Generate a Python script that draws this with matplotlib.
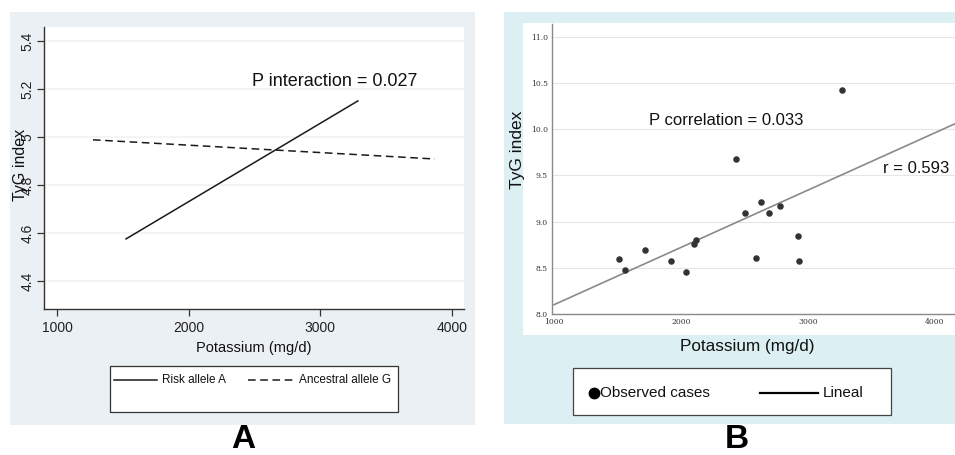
import matplotlib
matplotlib.use("Agg")
import matplotlib.pyplot as plt
from matplotlib.patches import Rectangle
from matplotlib.lines import Line2D

# Panel A: interaction lines (endpoints)
risk_x = [1524, 3285]
risk_y = [4.575, 5.15]
ancestral_x = [1273, 3870]
ancestral_y = [4.988, 4.908]
a_yticks = [4.4, 4.6, 4.8, 5.0, 5.2, 5.4]
a_yticklabels = ["4.4", "4.6", "4.8", "5", "5.2", "5.4"]
a_xticks = [1000, 2000, 3000, 4000]

# Panel B: observed cases + linear fit
potassium = [3268, 2433, 2504, 2630, 2693, 2780, 1512, 1559, 1717, 1921,
             2039, 2102, 2118, 2591, 2921, 2929]
tyg = [10.43, 9.68, 9.09, 9.21, 9.09, 9.17, 8.60, 8.475, 8.69, 8.57,
       8.45, 8.76, 8.80, 8.61, 8.84, 8.57]
fit_x = [1000, 4160]
fit_y = [8.10, 10.06]
b_yticks = [8.0, 8.5, 9.0, 9.5, 10.0, 10.5, 11.0]
b_xticks = [1000, 2000, 3000, 4000]

W, H = 955, 455
fig = plt.figure(figsize=(W / 100, H / 100), dpi=100)
fig.patch.set_facecolor("white")


def box(x0, y0, x1, y1):
    # pixel box -> figure fraction [left, bottom, width, height]
    return [x0 / W, 1 - y1 / H, (x1 - x0) / W, (y1 - y0) / H]


def fx(px):
    return px / W


def fy(py):
    return 1 - py / H


def rect(x0, y0, x1, y1, **kw):
    l, b, w, h = box(x0, y0, x1, y1)
    fig.patches.append(Rectangle((l, b), w, h, transform=fig.transFigure, **kw))


font = ["Liberation Sans", "DejaVu Sans"]

# ---------------- Panel A ----------------
rect(10, 12, 475, 425, facecolor="#eaf0f3", edgecolor="none", zorder=-2)
axA = fig.add_axes(box(44, 27, 464, 309))
axA.set_facecolor("white")
axA.plot(risk_x, risk_y, color="#1a1a1a", lw=1.1)
axA.plot(ancestral_x, ancestral_y, color="#1a1a1a", lw=1.1, dashes=(5, 3))
axA.set_xlim(901, 4091)
axA.set_ylim(4.283, 5.458)
axA.set_yticks(a_yticks)
axA.set_yticklabels(a_yticklabels, rotation=90, va="center", family=font, fontsize=10)
axA.set_xticks(a_xticks)
axA.set_xticklabels([str(t) for t in a_xticks], family=font, fontsize=10)
axA.grid(axis="y", color="#eff3f5", lw=1.2)
axA.set_axisbelow(True)
for s in ["top", "right"]:
    axA.spines[s].set_visible(False)
for s in ["left", "bottom"]:
    axA.spines[s].set_color("#333333")
    axA.spines[s].set_linewidth(1.0)
axA.tick_params(length=5, width=0.9, color="#333333", labelcolor="#222222")
axA.tick_params(axis="y", pad=2)
axA.tick_params(axis="x", pad=4)
axA.text(3111, 5.23, "P interaction = 0.027", ha="center", va="center",
         family=font, fontsize=13, color="#111111")
fig.text(fx(20), fy(165), "TyG index", rotation=90, ha="center", va="center",
         family=font, fontsize=11.5, color="#111111")
fig.text(fx(254), fy(348), "Potassium (mg/d)", ha="center", va="center",
         family=font, fontsize=10.5, color="#111111")

# legend A
rect(110, 366, 398, 412, facecolor="white", edgecolor="#333333", lw=0.9, zorder=1)
fig.lines.append(Line2D([fx(114), fx(157)], [fy(380), fy(380)], transform=fig.transFigure,
                        color="#1a1a1a", lw=1.1))
fig.text(fx(162), fy(380), "Risk allele A", ha="left", va="center", family=font,
         fontsize=8.5, color="#111111")
fig.lines.append(Line2D([fx(248), fx(293)], [fy(380), fy(380)], transform=fig.transFigure,
                        color="#1a1a1a", lw=1.1, dashes=(5, 3)))
fig.text(fx(299), fy(380), "Ancestral allele G", ha="left", va="center", family=font,
         fontsize=8.5, color="#111111")
fig.text(fx(243), fy(440), "A", ha="center", va="center", family=font,
         fontsize=24, fontweight="bold", color="black")

# ---------------- Panel B ----------------
rect(504, 12, 955, 424, facecolor="#dceff3", edgecolor="none", zorder=-2)
rect(523, 23, 955, 335, facecolor="white", edgecolor="none", zorder=-1)
axB = fig.add_axes(box(552, 24, 955, 314))
axB.set_facecolor("white")
axB.plot(fit_x, fit_y, color="#8a8a8a", lw=1.2, zorder=2)
axB.scatter(potassium, tyg, s=22, color="#333333", zorder=3, linewidths=0)
axB.set_xlim(985, 4160)
axB.set_ylim(8.0, 11.14)
axB.set_yticks(b_yticks)
axB.set_yticklabels([f"{t:.1f}" for t in b_yticks], fontsize=5.5, family="DejaVu Serif")
axB.set_xticks(b_xticks)
axB.set_xticklabels([str(t) for t in b_xticks], fontsize=5.5, family="DejaVu Serif")
axB.grid(axis="y", color="#e6e6e6", lw=0.8)
axB.set_axisbelow(True)
for s in ["top", "right"]:
    axB.spines[s].set_visible(False)
for s in ["left", "bottom"]:
    axB.spines[s].set_color("#8a8a8a")
    axB.spines[s].set_linewidth(1.0)
axB.tick_params(length=0, pad=3, labelcolor="#333333")
axB.text(2354, 10.09, "P correlation = 0.033", ha="center", va="center",
         family=font, fontsize=12, color="#111111")
axB.text(3850, 9.58, "r = 0.593", ha="center", va="center",
         family=font, fontsize=12, color="#111111")
fig.text(fx(517), fy(150), "TyG index", rotation=90, ha="center", va="center",
         family=font, fontsize=12.5, color="#111111")
fig.text(fx(747), fy(347), "Potassium (mg/d)", ha="center", va="center",
         family=font, fontsize=12.3, color="#111111")

# legend B
rect(573, 368, 891, 415, facecolor="white", edgecolor="#444444", lw=0.9, zorder=1)
fig.lines.append(Line2D([fx(594)], [fy(393)], transform=fig.transFigure, marker="o",
                        markersize=7.5, color="black", lw=0))
fig.text(fx(600), fy(393), "Observed cases", ha="left", va="center", family=font,
         fontsize=11, color="#111111")
fig.lines.append(Line2D([fx(760), fx(818)], [fy(393), fy(393)], transform=fig.transFigure,
                        color="black", lw=1.6))
fig.text(fx(823), fy(393), "Lineal", ha="left", va="center", family=font,
         fontsize=11, color="#111111")
fig.text(fx(737), fy(440), "B", ha="center", va="center", family=font,
         fontsize=24, fontweight="bold", color="black")

fig.savefig("out.png", dpi=100)
